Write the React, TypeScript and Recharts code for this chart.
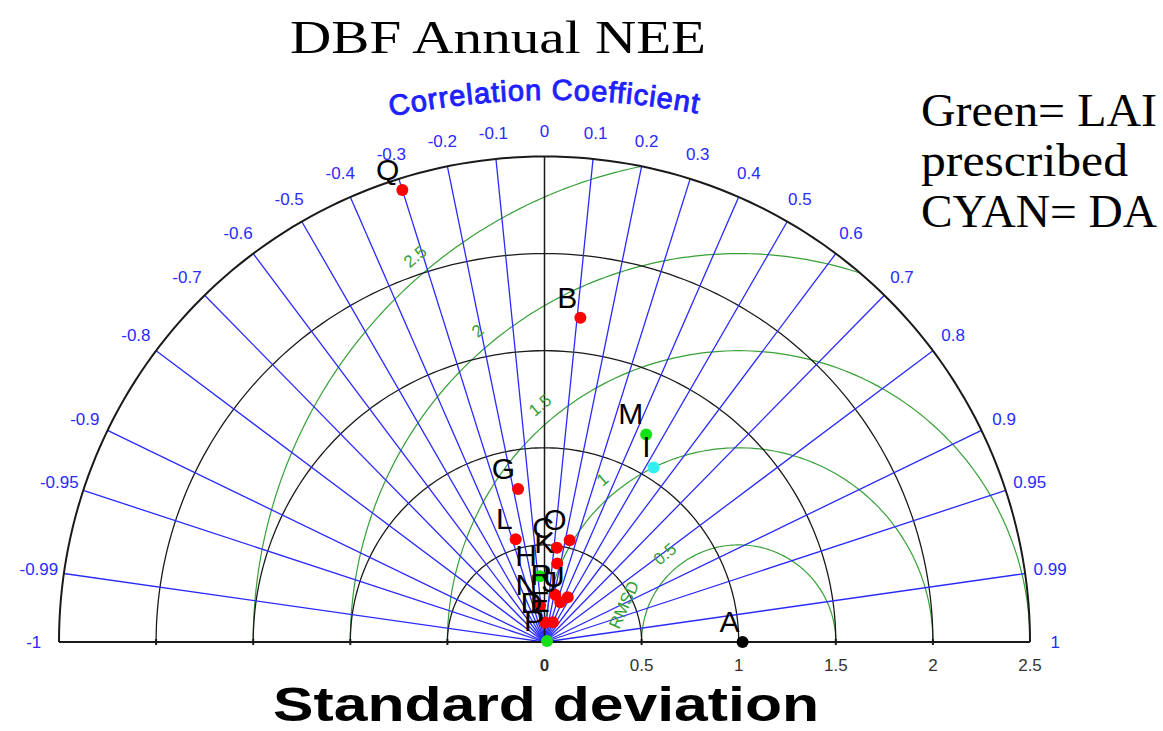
import { Scatter, ScatterChart, XAxis, YAxis } from "recharts";

const W = 1163;
const H = 731;
const SCALE = 194.2; // px per std-dev unit
const OX = 544.5;
const OY = 642;
const X_DOMAIN: [number, number] = [-2.8, 3.1];
const Y_DOMAIN: [number, number] = [-0.45, 3.3];

const BLUE = "#2a2aff";
const GREEN = "#37a037";
const INK = "#1a1a1a";

// grid
const STD_MAX = 2.5;
const STD_RINGS = [0.5, 1, 1.5, 2];
const STD_TICKS = [0, 0.5, 1, 1.5, 2, 2.5];
const AXIS_MARKS = [-2, -1.5, -1, -0.5, 0.5, 1, 1.5, 2];
const REF_STD = 1;
const RMSD_RINGS = [0.5, 1, 1.5, 2, 2.5];
const CORR_TICKS = [0.1, 0.2, 0.3, 0.4, 0.5, 0.6, 0.7, 0.8, 0.9, 0.95, 0.99];

// models
const MODEL_NAMES = ["A", "Q", "B", "G", "L", "O", "C", "K", "R", "U", "J", "N", "D", "E", "M", "H", "P", "I"];
const MODEL_STD = [1.02, 2.44, 1.68, 0.8, 0.55, 0.54, 0.49, 0.41, 0.25, 0.26, 0.22, 0.19, 0.1, 0.11, 1.19, 0.34, 0.014, 1.06];
const MODEL_CORR = [1.0, -0.3, 0.11, -0.17, -0.27, 0.24, 0.13, 0.16, 0.22, 0.46, 0.37, -0.12, 0.03, 0.39, 0.44, -0.07, 0.93, 0.53];
const MODEL_COLOR = [
  "#000000", "#ff0000", "#ff0000", "#ff0000", "#ff0000", "#ff0000", "#ff0000", "#ff0000", "#ff0000",
  "#ff0000", "#ff0000", "#ff0000", "#ff0000", "#ff0000", "#14e014", "#14e014", "#14e014", "#30f0f0",
];

const polar = (s: number, c: number) => ({ x: s * c, y: s * Math.sqrt(Math.max(0, 1 - c * c)) });

const arcPts = (cx: number, r: number, t0: number, t1: number) =>
  Array.from({ length: 145 }, (_, i) => {
    const t = ((t0 + ((t1 - t0) * i) / 144) * Math.PI) / 180;
    return { x: cx + r * Math.cos(t), y: r * Math.sin(t) };
  });

// part of each RMSD circle that lies inside the outer semicircle
const rmsdArc = (r: number) => {
  const c = (STD_MAX * STD_MAX - REF_STD * REF_STD - r * r) / (2 * r * REF_STD);
  const t0 = (Math.acos(Math.min(1, Math.max(-1, c))) * 180) / Math.PI;
  return arcPts(REF_STD, r, t0, 180);
};

const allCorr = [...CORR_TICKS.map((c) => -c).reverse(), ...CORR_TICKS];
const corrLabels = [-1, ...allCorr.slice(0, 11), 0, ...allCorr.slice(11), 1].map((c) => ({
  ...polar(2.63, c),
  label: String(c),
}));

const models = MODEL_NAMES.map((name, i) => ({
  ...polar(MODEL_STD[i], MODEL_CORR[i]),
  name,
  color: MODEL_COLOR[i],
}));

const rmsdLabels = RMSD_RINGS.map((r) => {
  const t = (130 * Math.PI) / 180;
  return { x: REF_STD + (r + 0.09) * Math.cos(t), y: (r + 0.09) * Math.sin(t), label: String(r), rot: -40 };
});
const rmsdTitle = [{ x: REF_STD + 0.62 * Math.cos((162 * Math.PI) / 180), y: 0.62 * Math.sin((162 * Math.PI) / 180), label: "RMSD", rot: -66 }];

const noDot = () => <g />;

export default function App() {
  const margin = {
    left: OX + X_DOMAIN[0] * SCALE,
    right: W - (OX + X_DOMAIN[1] * SCALE),
    top: OY - Y_DOMAIN[1] * SCALE,
    bottom: H - (OY - Y_DOMAIN[0] * SCALE),
  };

  return (
    <div style={{ position: "absolute", left: 0, top: 0, width: W, height: H, background: "#fff" }}>
      <ScatterChart width={W} height={H} margin={margin}>
        <XAxis type="number" dataKey="x" domain={X_DOMAIN} allowDataOverflow hide />
        <YAxis type="number" dataKey="y" domain={Y_DOMAIN} allowDataOverflow hide />

        {RMSD_RINGS.map((r) => (
          <Scatter key={`rmsd${r}`} data={rmsdArc(r)} line={{ stroke: GREEN, strokeWidth: 1.2 }} shape={noDot} isAnimationActive={false} />
        ))}
        {STD_RINGS.map((r) => (
          <Scatter key={`std${r}`} data={arcPts(0, r, 0, 180)} line={{ stroke: INK, strokeWidth: 1.3 }} shape={noDot} isAnimationActive={false} />
        ))}
        {allCorr.map((c) => (
          <Scatter key={`corr${c}`} data={[{ x: 0, y: 0 }, polar(STD_MAX, c)]} line={{ stroke: BLUE, strokeWidth: 1.3 }} shape={noDot} isAnimationActive={false} />
        ))}
        <Scatter data={arcPts(0, STD_MAX, 0, 180)} line={{ stroke: INK, strokeWidth: 2 }} shape={noDot} isAnimationActive={false} />
        <Scatter data={[{ x: 0, y: 0 }, { x: 0, y: STD_MAX }]} line={{ stroke: INK, strokeWidth: 1.5 }} shape={noDot} isAnimationActive={false} />
        <Scatter data={[{ x: -STD_MAX, y: 0 }, { x: STD_MAX, y: 0 }]} line={{ stroke: INK, strokeWidth: 2 }} shape={noDot} isAnimationActive={false} />

        <Scatter
          data={AXIS_MARKS.map((x) => ({ x, y: 0 }))}
          isAnimationActive={false}
          shape={(p: any) => <line x1={p.cx} x2={p.cx} y1={p.cy - 3} y2={p.cy + 3} stroke={INK} strokeWidth={2} />}
        />
        <Scatter
          data={STD_TICKS.map((x) => ({ x, y: 0, label: String(x) }))}
          isAnimationActive={false}
          shape={(p: any) => (
            <text x={p.cx} y={p.cy + 23} textAnchor="middle" dominantBaseline="central" fontFamily="Liberation Sans, Arial" fontSize={17} fontWeight={p.payload.x === 0 ? 700 : 400} fill="#333">
              {p.payload.label}
            </text>
          )}
        />
        <Scatter
          data={corrLabels}
          isAnimationActive={false}
          shape={(p: any) => (
            <text x={p.cx} y={p.cy} textAnchor="middle" dominantBaseline="central" fontFamily="Liberation Sans, Arial" fontSize={17} fill={BLUE}>
              {p.payload.label}
            </text>
          )}
        />
        <Scatter
          data={[...rmsdLabels, ...rmsdTitle]}
          isAnimationActive={false}
          shape={(p: any) => (
            <text
              x={p.cx}
              y={p.cy}
              transform={`rotate(${p.payload.rot} ${p.cx} ${p.cy})`}
              textAnchor="middle"
              dominantBaseline="central"
              fontFamily="Liberation Sans, Arial"
              fontSize={17}
              fill={GREEN}
            >
              {p.payload.label}
            </text>
          )}
        />
        <Scatter
          data={[{ x: 0, y: (OY - 101) / SCALE }]}
          isAnimationActive={false}
          shape={(p: any) => (
            <g>
              <defs>
                <path id="corrArc" d={`M ${p.cx - 160} ${p.cy + 17} A 780 780 0 0 1 ${p.cx + 160} ${p.cy + 14}`} fill="none" />
              </defs>
              <text fontFamily="Liberation Sans, Arial" fontSize={29} fill="#1f1fff" stroke="#1f1fff" strokeWidth={1} letterSpacing={1}>
                <textPath href="#corrArc" startOffset="50%" textAnchor="middle">
                  Correlation Coefficient
                </textPath>
              </text>
            </g>
          )}
        />

        <Scatter
          data={models}
          isAnimationActive={false}
          shape={(p: any) => <circle cx={p.cx} cy={p.cy} r={6} fill={p.payload.color} />}
        />
        <Scatter
          data={models}
          isAnimationActive={false}
          shape={(p: any) => (
            <text x={p.cx - 3} y={p.cy - 10} textAnchor="end" fontFamily="Liberation Sans, Arial" fontSize={30} fill="#000">
              {p.payload.name}
            </text>
          )}
        />
      </ScatterChart>

      <svg width={W} height={H} style={{ position: "absolute", left: 0, top: 0, pointerEvents: "none" }}>
        <text x={290} y={53} fontFamily="Liberation Serif, serif" fontSize={46} textLength={416} lengthAdjust="spacingAndGlyphs">
          DBF Annual NEE
        </text>
        <g fontFamily="Liberation Serif, serif" fontSize={46}>
          <text x={921} y={126} textLength={236} lengthAdjust="spacingAndGlyphs">Green= LAI</text>
          <text x={921} y={176} textLength={207} lengthAdjust="spacingAndGlyphs">prescribed</text>
          <text x={921} y={227} textLength={236} lengthAdjust="spacingAndGlyphs">CYAN= DA</text>
        </g>
        <text x={273} y={721} fontFamily="Liberation Sans, Arial" fontWeight={700} fontSize={49} textLength={546} lengthAdjust="spacingAndGlyphs">
          Standard deviation
        </text>
      </svg>
    </div>
  );
}
